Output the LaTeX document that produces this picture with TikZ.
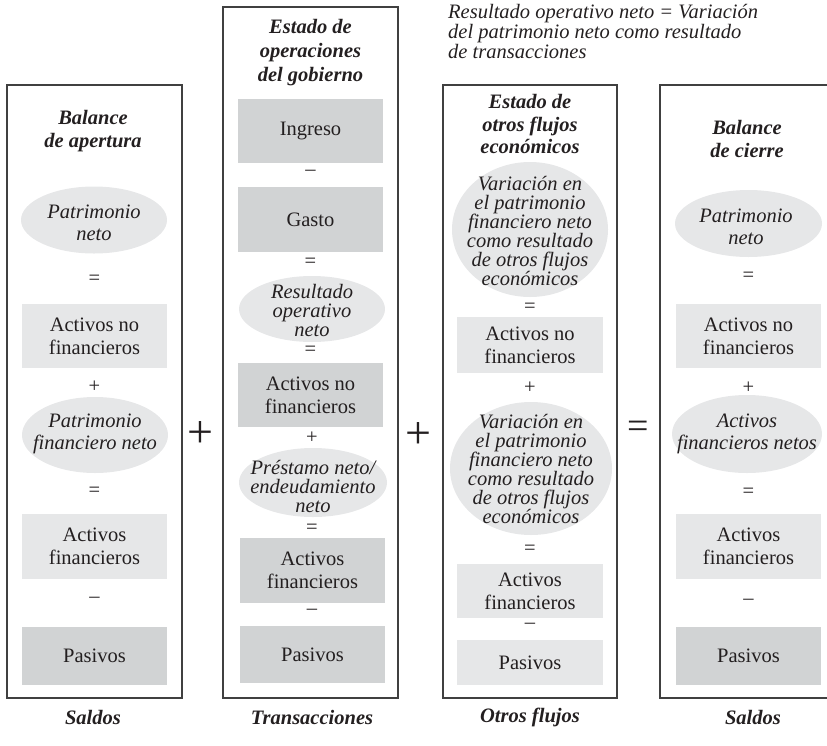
\documentclass[tikz,border=0pt]{standalone}
\usepackage{fontspec}
\setmainfont{Liberation Serif}
\usetikzlibrary{shapes.geometric}
\definecolor{lightbox}{HTML}{E6E7E8}
\definecolor{darkbox}{HTML}{D1D3D4}
\definecolor{ellfill}{HTML}{E6E7E8}
\definecolor{frame}{HTML}{404040}
\definecolor{ink}{HTML}{231F20}
\tikzset{
 base/.style={font=\fontsize{20.5}{23}\selectfont, text=ink, inner sep=0pt, align=center},
 lbox/.style={base, fill=lightbox, minimum width=145pt},
 dbox/.style={base, fill=darkbox, minimum width=145pt},
 ellb/.style={ellipse, fill=ellfill, inner sep=0pt},
 etext/.style={base, font=\fontsize{20.5}{19}\selectfont\itshape},
 etextw/.style={base, font=\fontsize{20.5}{22}\selectfont\itshape},
 op/.style={base},
 ttl/.style={base, font=\fontsize{20.5}{23}\selectfont\bfseries\itshape},
 frm/.style={draw=frame, line width=1.5pt},
 bigop/.style={base, font=\fontsize{46}{46}\selectfont},
 bigeq/.style={base, font=\fontsize{38}{38}\selectfont},
 note/.style={base, align=left, font=\fontsize{20.5}{18.5}\selectfont\itshape},
}
\begin{document}
\begin{tikzpicture}[x=1pt,y=-1pt]
\useasboundingbox (0,0) rectangle (827,745);
% frames
\draw[frm] (7,85) rectangle (182,698);
\draw[frm] (223,7) rectangle (398,698);
\draw[frm] (443,85) rectangle (617,698);
\draw[frm] (830,85) -- (660,85) -- (660,698) -- (830,698);

% note
\node[note, anchor=west] (note) at (448,31.5) {Resultado operativo neto = Variación\\del patrimonio neto como resultado\\de transacciones};

% column 1
\node[ttl] (t1) at (93,131.5) {Balance\\de apertura};
\node[ellb, minimum width=146pt, minimum height=67pt] (e1a) at (94,220) {};
\node[etextw] (e1at) at (94,223) {Patrimonio\\neto};
\node[op] (o1a) at (94.5,280) {=};
\node[lbox, minimum height=64pt] (r1a) at (94.5,336) {Activos no\\financieros};
\node[op] (o1b) at (94.5,387) {+};
\node[ellb, minimum width=146pt, minimum height=76pt] (e1b) at (95,435) {};
\node[etextw] (e1bt) at (95,434) {Patrimonio\\financiero neto};
\node[op] (o1c) at (94.5,492) {=};
\node[lbox, minimum height=65pt] (r1b) at (94.5,546.5) {Activos\\financieros};
\node[op] (o1d) at (94.5,600) {–};
\node[dbox, minimum height=58pt] (r1c) at (94.5,656) {Pasivos};
\node[ttl] (s1) at (93,717) {Saldos};

% big operators
\node[bigop] (p1) at (200,434) {+};
\node[bigop] (p2) at (418,435) {+};
\node[bigeq] (q1) at (638,430) {=};

% column 2
\node[ttl, font=\fontsize{20.5}{24}\selectfont\bfseries\itshape] (t2) at (310.5,53) {Estado de\\operaciones\\del gobierno};
\node[dbox, minimum height=64pt] (r2a) at (310.5,131) {Ingreso};
\node[op] (o2a) at (310.5,173) {–};
\node[dbox, minimum height=65pt] (r2b) at (310.5,219.5) {Gasto};
\node[op] (o2b) at (310.5,263) {=};
\node[ellb, minimum width=146pt, minimum height=66pt] (e2a) at (312,309) {};
\node[etext] (e2at) at (312,310.5) {Resultado\\operativo\\neto};
\node[op] (o2c) at (310.5,350.5) {=};
\node[dbox, minimum height=64pt] (r2c) at (310.5,395) {Activos no\\financieros};
\node[op] (o2d) at (312,438) {+};
\node[ellb, minimum width=148pt, minimum height=69pt] (e2b) at (313,482.5) {};
\node[etext] (e2bt) at (313,486.5) {Préstamo neto/\\endeudamiento\\neto};
\node[op] (o2e) at (312,528.5) {=};
\node[dbox, minimum height=65pt] (r2d) at (312.5,570.5) {Activos\\financieros};
\node[op] (o2f) at (312,612) {–};
\node[dbox, minimum height=57pt] (r2e) at (312.5,654.5) {Pasivos};
\node[ttl] (s2) at (312,717) {Transacciones};

% column 3
\node[ttl, font=\fontsize{20.5}{22.5}\selectfont\bfseries\itshape] (t3) at (530,124) {Estado de\\otros flujos\\económicos};
\node[ellb, minimum width=156pt, minimum height=135pt] (e3a) at (530,229.5) {};
\node[etext] (e3at) at (530,231) {Variación en\\el patrimonio\\financiero neto\\como resultado\\de otros flujos\\económicos};
\node[op] (o3a) at (530,308) {=};
\node[lbox, minimum width=146pt, minimum height=56pt] (r3a) at (530,345) {Activos no\\financieros};
\node[op] (o3b) at (530,388) {+};
\node[ellb, minimum width=162pt, minimum height=133pt] (e3b) at (531,468.5) {};
\node[etext] (e3bt) at (531,468.5) {Variación en\\el patrimonio\\financiero neto\\como resultado\\de otros flujos\\económicos};
\node[op] (o3c) at (530,550) {=};
\node[lbox, minimum width=146pt, minimum height=54pt] (r3b) at (530,591) {Activos\\financieros};
\node[op] (o3d) at (530,626) {–};
\node[lbox, minimum width=146pt, minimum height=45pt] (r3c) at (530,662.5) {Pasivos};
\node[ttl] (s3) at (530,717) {Otros flujos};

% column 4
\node[ttl] (t4) at (747,138.5) {Balance\\de cierre};
\node[ellb, minimum width=147pt, minimum height=67pt] (e4a) at (748.5,223.5) {};
\node[etextw] (e4at) at (746,227) {Patrimonio\\neto};
\node[op] (o4a) at (748.5,277) {=};
\node[lbox, minimum height=64pt] (r4a) at (748.5,336) {Activos no\\financieros};
\node[op] (o4b) at (748.5,388) {+};
\node[ellb, minimum width=150pt, minimum height=78pt] (e4b) at (747,434) {};
\node[etextw] (e4bt) at (747,434) {Activos\\financieros netos};
\node[op] (o4c) at (748.5,493) {=};
\node[lbox, minimum height=65pt] (r4b) at (748.5,546.5) {Activos\\financieros};
\node[op] (o4d) at (748.5,602) {–};
\node[dbox, minimum height=58pt] (r4c) at (748.5,656) {Pasivos};
\node[ttl] (s4) at (753,717) {Saldos};
\end{tikzpicture}
\end{document}
